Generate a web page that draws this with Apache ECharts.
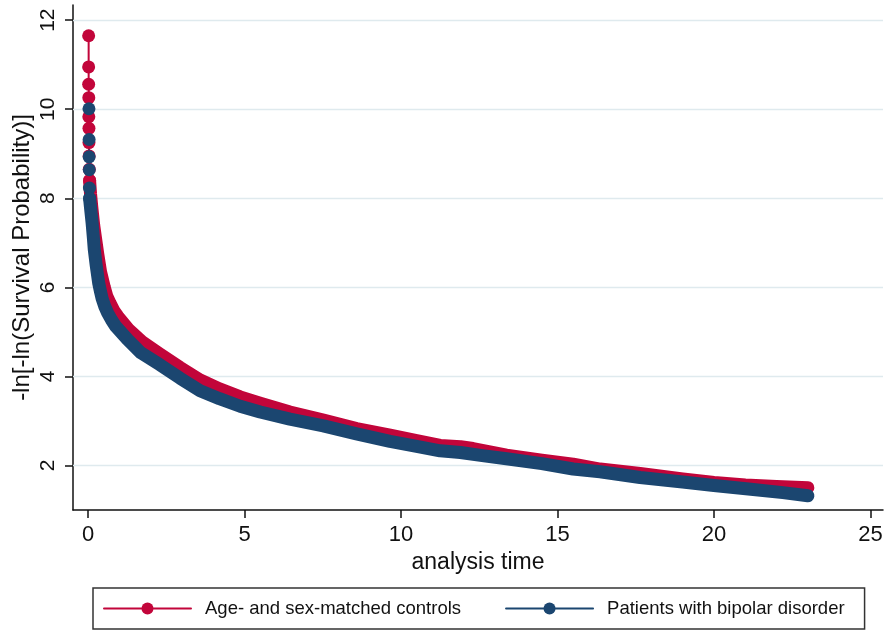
<!DOCTYPE html>
<html>
<head>
<meta charset="utf-8">
<script src="https://cdn.jsdelivr.net/npm/echarts@6/dist/echarts.min.js"></script>
<style>
  html, body { margin: 0; padding: 0; background: #fff; }
  #chart { width: 886px; height: 632px; }
</style>
</head>
<body>
<div id="chart"></div>
<script>
  // Series names (legend)
  const controlsName = "Age- and sex-matched controls";
  const patientsName = "Patients with bipolar disorder";

  // Tick values
  const xTicks = [0, 5, 10, 15, 20, 25];
  const yTicks = [2, 4, 6, 8, 10, 12];

  // Controls: the separate markers at the very start
  const controlsTopTime = [0.02, 0.02, 0.02, 0.025, 0.025, 0.03, 0.03, 0.035, 0.04, 0.05];
  const controlsTopValue = [11.65, 10.95, 10.56, 10.26, 9.83, 9.57, 9.25, 8.95, 8.65, 8.4];

  // Controls: the dense part of the curve
  const controlsTime = [0.05, 0.08, 0.12, 0.18, 0.24, 0.31, 0.4, 0.52, 0.6, 0.7, 0.82, 0.95, 1.3,
    1.72, 2.3, 2.94, 3.58, 4.2, 4.86, 5.5, 6.45, 7.52, 8.58, 9.65, 10.5, 11.25, 11.9, 12.3, 13.37,
    14.5, 15.5, 16.36, 17.64, 19, 20, 21, 22, 23];
  const controlsValue = [8.4, 8.1, 7.8, 7.4, 7.1, 6.75, 6.35, 6.0, 5.8, 5.65, 5.48, 5.35, 5.05,
    4.78, 4.5, 4.2, 3.92, 3.72, 3.54, 3.4, 3.2, 3.02, 2.83, 2.68, 2.56, 2.45, 2.42, 2.38, 2.23,
    2.12, 2.03, 1.92, 1.82, 1.7, 1.62, 1.56, 1.53, 1.5];

  // Patients: the separate markers at the very start
  const patientsTopTime = [0.03, 0.035, 0.035, 0.04, 0.045, 0.05];
  const patientsTopValue = [10.01, 9.32, 8.93, 8.64, 8.23, 8.0];

  // Patients: the dense part of the curve
  const patientsTime = [0.05, 0.09, 0.13, 0.17, 0.2, 0.26, 0.34, 0.4, 0.45, 0.53, 0.63, 0.75,
    0.88, 1.26, 1.69, 2.3, 2.94, 3.58, 4.2, 4.86, 5.5, 6.45, 7.52, 8.58, 9.65, 10.5, 11.25, 11.9,
    12.6, 13.37, 14.5, 15.5, 16.36, 17.64, 19, 20, 21.1, 22.2, 23];
  const patientsValue = [8.0, 7.72, 7.45, 7.12, 6.85, 6.5, 6.1, 5.9, 5.75, 5.58, 5.42, 5.27,
    5.13, 4.83, 4.53, 4.26, 3.96, 3.68, 3.5, 3.33, 3.2, 3.04, 2.89, 2.71, 2.54, 2.43, 2.33, 2.29,
    2.22, 2.15, 2.04, 1.92, 1.86, 1.73, 1.63, 1.55, 1.47, 1.39, 1.32];

  const RED = "#c2053a";
  const BLUE = "#1b4670";
  const FONT = "'Liberation Sans', Arial, sans-serif";

  function zip(xs, ys) {
    return xs.map((x, i) => [x, ys[i]]);
  }

  function bandSeries(name, color, xs, ys) {
    return {
      name: name,
      type: "line",
      data: zip(xs, ys),
      symbol: "circle",
      showSymbol: false,
      lineStyle: { color: color, width: 13, cap: "round", join: "round" },
      itemStyle: { color: color },
      silent: true,
    };
  }

  function markerSeries(name, color, xs, ys) {
    return {
      name: name,
      type: "line",
      data: zip(xs, ys),
      symbol: "circle",
      symbolSize: 13,
      showAllSymbol: true,
      lineStyle: { color: color, width: 2 },
      itemStyle: { color: color },
      silent: true,
    };
  }

  // light horizontal grid lines, drawn as mark lines at the y ticks (behind the curves)
  const gridLines = {
    silent: true,
    z: 1,
    symbol: "none",
    label: { show: false },
    lineStyle: { color: "#dfeaee", width: 1.3, type: "solid" },
    data: yTicks.map((v) => ({ yAxis: v })),
  };

  const redBand = bandSeries(controlsName, RED, controlsTime, controlsValue);
  redBand.markLine = gridLines;

  const option = {
    animation: false,
    backgroundColor: "#fff",
    textStyle: { fontFamily: FONT },
    grid: { left: 73, right: 3, top: 5, bottom: 122, containLabel: false, outerBoundsMode: "none" },
    xAxis: {
      type: "value",
      min: -0.48,
      max: 25.4,
      name: "analysis time",
      nameLocation: "middle",
      nameGap: 41,
      nameMoveOverlap: false,
      nameTextStyle: { fontSize: 23, color: "#111", fontFamily: FONT },
      axisLine: { onZero: false, lineStyle: { color: "#111", width: 1.5 } },
      axisTick: { show: true, length: 8, customValues: xTicks, lineStyle: { color: "#111", width: 1.5 } },
      axisLabel: { customValues: xTicks, fontSize: 22, color: "#111", margin: 14, fontFamily: FONT },
      splitLine: { show: false },
    },
    yAxis: {
      type: "value",
      min: 1,
      max: 12.34,
      name: "-ln[-ln(Survival Probability)]",
      nameLocation: "middle",
      nameGap: 39,
      nameMoveOverlap: false,
      nameTextStyle: { fontSize: 24, color: "#111", fontFamily: FONT },
      axisLine: { show: true, onZero: false, lineStyle: { color: "#111", width: 1.5 } },
      axisTick: { show: true, length: 8, customValues: yTicks, lineStyle: { color: "#111", width: 1.5 } },
      axisLabel: { customValues: yTicks, rotate: 90, fontSize: 21, color: "#111", margin: 14, fontFamily: FONT },
      splitLine: { show: false },
    },
    legend: {
      data: [controlsName, patientsName],
      left: 93,
      top: 588,
      orient: "horizontal",
      padding: [11, 20, 11, 10],
      itemWidth: 87,
      itemHeight: 15,
      itemGap: 44,
      borderColor: "#333",
      borderWidth: 1.5,
      lineStyle: { width: 2 },
      textStyle: { fontSize: 18.5, color: "#111", fontFamily: FONT, padding: [0, 0, 0, 9] },
    },
    series: [
      redBand,
      markerSeries(controlsName, RED, controlsTopTime, controlsTopValue),
      bandSeries(patientsName, BLUE, patientsTime, patientsValue),
      markerSeries(patientsName, BLUE, patientsTopTime, patientsTopValue),
    ],
  };

  const chart = echarts.init(document.getElementById("chart"), null, { renderer: "canvas" });
  chart.setOption(option);
</script>
</body>
</html>
